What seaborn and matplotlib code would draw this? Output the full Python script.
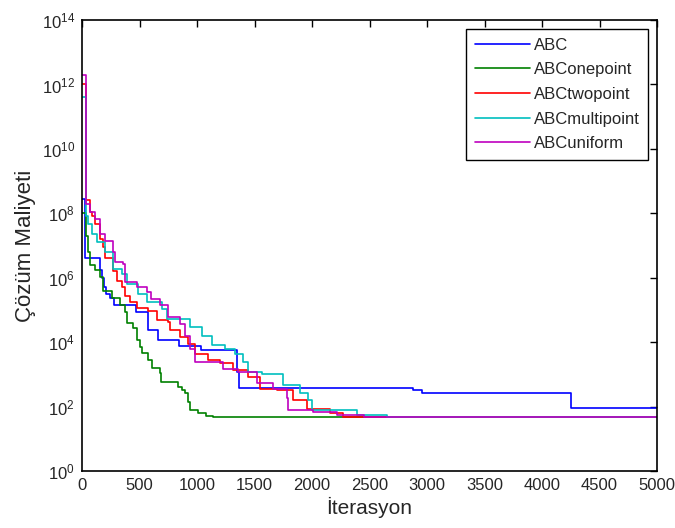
import numpy as np
import pandas as pd
import matplotlib
matplotlib.use("Agg")
import matplotlib.pyplot as plt
import seaborn as sns

series_names = ["ABC", "ABConepoint", "ABCtwopoint", "ABCmultipoint", "ABCuniform"]
colors = ["#0000ff", "#008000", "#ff0000", "#00bfbf", "#bf00bf"]

# step change points (iteration, best cost)
abc_x = [0, 25, 160, 172, 190, 210, 245, 280, 470, 577, 658, 846, 1032, 1345, 1368, 2881, 2954, 4252, 5000]
abc_y = [2.8e8, 4.0e6, 1.7e6, 1.0e6, 5.0e5, 3.2e5, 2.3e5, 1.4e5, 8.9e4, 2.3e4, 1.2e4, 7.6e3, 5.6e3, 1.2e3,
         380, 320, 260, 93, 93]

one_x = [0, 35, 55, 70, 113, 157, 183, 258, 330, 374, 388, 446, 475, 504, 519, 577, 606, 678, 690, 838,
         870, 896, 925, 940, 1012, 1080, 1142, 5000]
one_y = [1e8, 2e7, 6.3e6, 2.4e6, 1.7e6, 1.05e6, 4e5, 2.3e5, 1.4e5, 8.5e4, 3.8e4, 2.7e4, 1.15e4, 7.1e3,
         4.5e3, 2.75e3, 1.55e3, 1.07e3, 590, 400, 316, 257, 141, 78, 63, 52, 46, 46]

two_x = [0, 35, 70, 90, 113, 157, 185, 200, 272, 302, 345, 374, 417, 475, 577, 650, 750, 765, 852, 925,
         983, 1099, 1200, 1316, 1446, 1548, 1693, 1838, 1954, 2157, 2272, 2500, 5000]
two_y = [1e12, 2.5e8, 1.07e8, 8.5e7, 4.8e7, 1.6e7, 8.7e6, 4e6, 1.66e6, 8.1e5, 5.1e5, 2.8e5, 1.74e5,
         1.12e5, 9.5e4, 4.7e4, 4.2e4, 2.3e4, 1.45e4, 8.9e3, 4.4e3, 2.75e3, 2.2e3, 1.35e3, 830, 360, 320,
         160, 87, 62, 48, 46, 46]

multi_x = [0, 35, 55, 84, 128, 200, 272, 345, 388, 490, 562, 693, 737, 939, 1041, 1128, 1243, 1330, 1403,
           1446, 1562, 1751, 1896, 1968, 1997, 2388, 2650, 5000]
multi_y = [4e11, 8e7, 4.8e7, 2.3e7, 1.26e7, 6.2e6, 1.9e6, 1.3e6, 6.5e5, 3.2e5, 1.74e5, 1.1e5, 5.4e4,
           3e4, 1.6e4, 7.9e3, 6.3e3, 4.4e3, 2.4e3, 1.2e3, 1.05e3, 460, 257, 160, 78, 54, 46, 46]

uni_x = [0, 35, 70, 113, 157, 200, 272, 287, 359, 374, 475, 562, 600, 678, 750, 852, 896, 939, 983, 1229,
         1359, 1519, 1664, 1780, 1795, 2012, 2214, 2450, 5000]
uni_y = [2e12, 2e8, 1.07e8, 6.6e7, 2.3e7, 1.4e7, 6.2e6, 3e6, 2.7e6, 7.2e5, 5.1e5, 3.5e5, 2.2e5, 1.4e5,
         6e4, 3.7e4, 1.6e4, 6.3e3, 2.4e3, 1.5e3, 1.2e3, 520, 360, 178, 78, 69, 54, 46, 46]

xs = [abc_x, one_x, two_x, multi_x, uni_x]
ys = [abc_y, one_y, two_y, multi_y, uni_y]
df = pd.concat([pd.DataFrame({"iter": x, "cost": y, "alg": n}) for x, y, n in zip(xs, ys, series_names)],
               ignore_index=True)

sns.set_style("white")
plt.rcParams["font.family"] = ["Liberation Sans", "DejaVu Sans"]
plt.rcParams["xtick.direction"] = "in"
plt.rcParams["ytick.direction"] = "in"

fig = plt.figure(figsize=(6.75, 5.28), dpi=100)
ax = fig.add_axes([0.1215, 0.108, 0.852, 0.854])

sns.lineplot(data=df, x="iter", y="cost", hue="alg", hue_order=series_names, palette=colors,
             estimator=None, sort=False, drawstyle="steps-post", linewidth=1.2, ax=ax)

ax.set_yscale("log")
ax.set_xlim(0, 5000)
ax.set_ylim(1, 1e14)
ax.set_xticks(np.arange(0, 5001, 500))
ax.set_yticks([10.0 ** k for k in range(0, 15, 2)])
ax.yaxis.set_minor_locator(matplotlib.ticker.NullLocator())
ax.tick_params(axis="both", which="major", labelsize=12, length=5, width=1, color="black",
               top=True, right=True, pad=5)
for s in ax.spines.values():
    s.set_color("black")
    s.set_linewidth(1.2)

ax.set_xlabel("İterasyon", fontsize=15, labelpad=3)
ax.set_ylabel("Çözüm Maliyeti", fontsize=16, labelpad=4)

leg = ax.legend(loc="upper right", fontsize=12, handlelength=3.3, handletextpad=0.25,
                borderaxespad=0.55, labelspacing=0.58, fancybox=False, framealpha=1,
                edgecolor="black", borderpad=0.5)
leg.get_frame().set_linewidth(1.0)
for line in leg.get_lines():
    line.set_linewidth(1.2)

fig.savefig("out.png", dpi=100)
